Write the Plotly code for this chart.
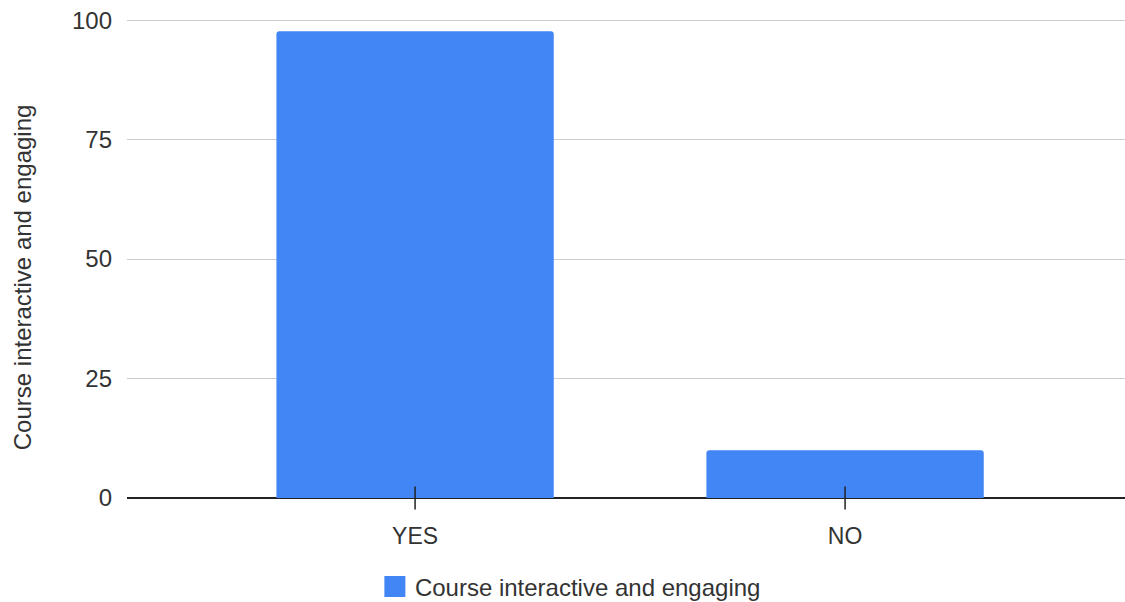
import plotly.graph_objects as go

categories = ["YES", "NO"]
values = [97.7, 10]
series_name = "Course interactive and engaging"
y_ticks = [0, 25, 50, 75, 100]

BLUE = "#4285F4"
FONT = "Liberation Sans, Arial, sans-serif"
TXT = "#333333"

fig = go.Figure()
fig.add_trace(go.Bar(
    x=categories, y=values, width=0.645,
    marker=dict(color=BLUE, cornerradius=3, line=dict(width=0)),
    showlegend=False, name=series_name,
))
# tick marks crossing the baseline at each category
fig.add_trace(go.Scatter(
    x=categories, y=[0] * len(categories), mode="markers",
    marker=dict(symbol="line-ns", size=16.5, line=dict(width=1.5, color="#222222")),
    showlegend=False, hoverinfo="skip", cliponaxis=False,
))
# legend entry
fig.add_trace(go.Scatter(
    x=[None], y=[None], mode="markers", name=series_name,
    marker=dict(symbol="square", size=24, color=BLUE,
                line=dict(width=5, color=BLUE)),
))

fig.update_layout(
    width=1125, height=602,
    margin=dict(l=127, r=0, t=18, b=104),
    paper_bgcolor="white", plot_bgcolor="white",
    font=dict(family=FONT, size=24, color=TXT),
    showlegend=True,
    legend=dict(
        orientation="h", xref="container", yref="container",
        x=0.507, xanchor="center", y=0.025, yanchor="middle",
        font=dict(family=FONT, size=24, color=TXT),
        itemsizing="trace",
    ),
    xaxis=dict(
        type="category", range=[-0.67, 1.651],
        showgrid=False, showline=False, zeroline=False, ticks="",
        tickfont=dict(size=23, color=TXT), ticklabelstandoff=22,
    ),
    yaxis=dict(
        range=[0, 100.45], tickvals=y_ticks,
        showgrid=True, gridcolor="#cccccc", gridwidth=1,
        zeroline=True, zerolinecolor="#222222", zerolinewidth=1.5,
        showline=False, ticks="",
        tickfont=dict(size=24, color=TXT), ticklabelstandoff=14,
    ),
    annotations=[dict(
        text=series_name, textangle=-90, showarrow=False,
        xref="paper", yref="paper", x=-0.1052, y=0.46,
        xanchor="center", yanchor="middle",
        font=dict(family=FONT, size=24, color=TXT),
    )],
)

fig.write_html(
    "out.html",
    config={"displayModeBar": False},
    post_script="document.body.style.margin='0px';",
)
